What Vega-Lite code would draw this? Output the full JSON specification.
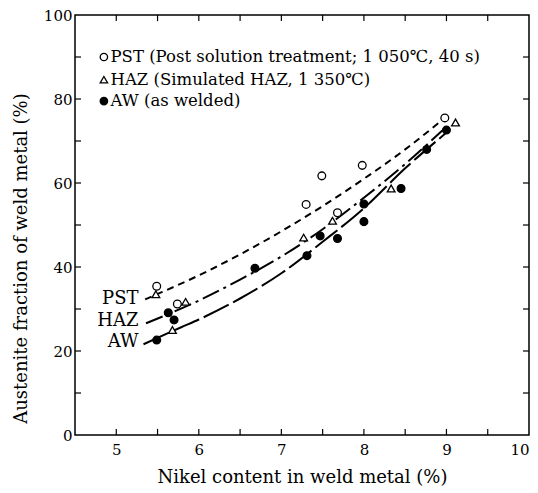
{
  "$schema": "https://vega.github.io/schema/vega-lite/v6.json",
  "width": 454,
  "height": 420,
  "autosize": "none",
  "padding": {"left": 75, "top": 15, "right": 9, "bottom": 58},
  "background": "white",
  "config": {
    "view": {"stroke": "black", "strokeWidth": 1.5},
    "font": "DejaVu Serif",
    "axis": {
      "grid": false,
      "domain": false,
      "ticks": false,
      "labelFont": "DejaVu Serif",
      "labelFontSize": 15,
      "labelColor": "black",
      "titleFont": "DejaVu Serif",
      "titleFontSize": 18,
      "titleFontWeight": "normal",
      "titleColor": "black"
    }
  },
  "datasets": {
    "pts": [
      {"series": "PST", "ni": 5.49, "aus": 35.4},
      {"series": "PST", "ni": 5.74, "aus": 31.2},
      {"series": "PST", "ni": 7.30, "aus": 54.9},
      {"series": "PST", "ni": 7.49, "aus": 61.7},
      {"series": "PST", "ni": 7.68, "aus": 52.9},
      {"series": "PST", "ni": 7.98, "aus": 64.2},
      {"series": "PST", "ni": 8.98, "aus": 75.5},
      {"series": "HAZ", "ni": 5.48, "aus": 33.5},
      {"series": "HAZ", "ni": 5.68, "aus": 25.0},
      {"series": "HAZ", "ni": 5.84, "aus": 31.7},
      {"series": "HAZ", "ni": 7.27, "aus": 47.0},
      {"series": "HAZ", "ni": 7.62, "aus": 51.0},
      {"series": "HAZ", "ni": 8.33, "aus": 58.7},
      {"series": "HAZ", "ni": 9.11, "aus": 74.4},
      {"series": "AW", "ni": 5.49, "aus": 22.6},
      {"series": "AW", "ni": 5.63, "aus": 29.1},
      {"series": "AW", "ni": 5.70, "aus": 27.4},
      {"series": "AW", "ni": 6.68, "aus": 39.7},
      {"series": "AW", "ni": 7.31, "aus": 42.7},
      {"series": "AW", "ni": 7.47, "aus": 47.4},
      {"series": "AW", "ni": 7.68, "aus": 46.8},
      {"series": "AW", "ni": 8.00, "aus": 55.0},
      {"series": "AW", "ni": 8.00, "aus": 50.8},
      {"series": "AW", "ni": 8.45, "aus": 58.7},
      {"series": "AW", "ni": 8.76, "aus": 68.0},
      {"series": "AW", "ni": 9.00, "aus": 72.6}
    ],
    "curves": [
      {"curve": "PST", "ni": 5.35, "aus": 32.3},
      {"curve": "PST", "ni": 5.55, "aus": 34.0},
      {"curve": "PST", "ni": 6.0, "aus": 38.0},
      {"curve": "PST", "ni": 6.5, "aus": 43.0},
      {"curve": "PST", "ni": 7.0, "aus": 48.5},
      {"curve": "PST", "ni": 7.5, "aus": 54.5},
      {"curve": "PST", "ni": 8.0, "aus": 61.0},
      {"curve": "PST", "ni": 8.5, "aus": 68.0},
      {"curve": "PST", "ni": 8.95, "aus": 75.0},
      {"curve": "HAZ", "ni": 5.36, "aus": 26.6},
      {"curve": "HAZ", "ni": 6.0, "aus": 32.0},
      {"curve": "HAZ", "ni": 6.5, "aus": 37.0},
      {"curve": "HAZ", "ni": 7.0, "aus": 42.5},
      {"curve": "HAZ", "ni": 7.5, "aus": 49.0},
      {"curve": "HAZ", "ni": 8.0, "aus": 56.5},
      {"curve": "HAZ", "ni": 8.5, "aus": 64.5},
      {"curve": "HAZ", "ni": 8.95, "aus": 72.5},
      {"curve": "AW", "ni": 5.33, "aus": 21.6},
      {"curve": "AW", "ni": 5.78, "aus": 25.6},
      {"curve": "AW", "ni": 6.0, "aus": 27.5},
      {"curve": "AW", "ni": 6.5, "aus": 32.5},
      {"curve": "AW", "ni": 7.0, "aus": 38.5},
      {"curve": "AW", "ni": 7.5, "aus": 46.0},
      {"curve": "AW", "ni": 8.0, "aus": 54.0},
      {"curve": "AW", "ni": 8.5, "aus": 63.5},
      {"curve": "AW", "ni": 9.0, "aus": 72.0}
    ],
    "labels": [
      {"label": "PST", "ni": 5.27, "aus": 32.4},
      {"label": "HAZ", "ni": 5.27, "aus": 27.1},
      {"label": "AW", "ni": 5.27, "aus": 22.1}
    ],
    "legend": [
      {"series": "PST", "desc": "PST (Post solution treatment; 1 050℃, 40 s)", "ni": 4.85, "tx": 4.93, "aus": 90.0},
      {"series": "HAZ", "desc": "HAZ (Simulated HAZ, 1 350℃)", "ni": 4.85, "tx": 4.93, "aus": 84.6},
      {"series": "AW", "desc": "AW (as welded)", "ni": 4.85, "tx": 4.93, "aus": 79.5}
    ],
    "xticks": [
      {"ni": 5}, {"ni": 5.5}, {"ni": 6}, {"ni": 6.5}, {"ni": 7}, {"ni": 7.5},
      {"ni": 8}, {"ni": 8.5}, {"ni": 9}, {"ni": 9.5}
    ],
    "yticks": [
      {"aus": 10}, {"aus": 20}, {"aus": 30}, {"aus": 40}, {"aus": 50},
      {"aus": 60}, {"aus": 70}, {"aus": 80}, {"aus": 90}
    ]
  },
  "layer": [
    {
      "data": {"name": "curves"},
      "mark": {"type": "line", "interpolate": "monotone", "color": "black", "strokeWidth": 2},
      "encoding": {
        "x": {"field": "ni", "type": "quantitative", "scale": {"domain": [4.5, 10]},
          "axis": {
            "values": [5, 6, 7, 8, 9, 10],
            "format": "d",
            "labelPadding": 7,
            "title": "Nikel content in weld metal (%)",
            "titlePadding": 11
          }},
        "y": {"field": "aus", "type": "quantitative", "scale": {"domain": [0, 100]},
          "axis": {
            "values": [0, 20, 40, 60, 80, 100],
            "labelPadding": 3,
            "title": "Austenite fraction of weld metal (%)",
            "titlePadding": 13,
            "titleY": 243
          }},
        "detail": {"field": "curve"},
        "strokeDash": {
          "field": "curve", "type": "nominal",
          "scale": {"domain": ["PST", "HAZ", "AW"], "range": [[7, 5], [18, 5, 3, 5], [28, 5]]},
          "legend": null
        }
      }
    },
    {
      "data": {"name": "xticks"},
      "mark": {"type": "rule", "color": "black", "strokeWidth": 1.2},
      "encoding": {
        "x": {"field": "ni", "type": "quantitative"},
        "y": {"datum": 0},
        "y2": {"datum": 1.45}
      }
    },
    {
      "data": {"name": "xticks"},
      "mark": {"type": "rule", "color": "black", "strokeWidth": 1.2},
      "encoding": {
        "x": {"field": "ni", "type": "quantitative"},
        "y": {"datum": 100},
        "y2": {"datum": 98.55}
      }
    },
    {
      "data": {"name": "yticks"},
      "mark": {"type": "rule", "color": "black", "strokeWidth": 1.2},
      "encoding": {
        "y": {"field": "aus", "type": "quantitative"},
        "x": {"datum": 4.5},
        "x2": {"datum": 4.573}
      }
    },
    {
      "data": {"name": "yticks"},
      "mark": {"type": "rule", "color": "black", "strokeWidth": 1.2},
      "encoding": {
        "y": {"field": "aus", "type": "quantitative"},
        "x": {"datum": 10},
        "x2": {"datum": 9.927}
      }
    },
    {
      "data": {"name": "pts"},
      "mark": {"type": "point", "filled": true, "stroke": "black", "strokeWidth": 1.3, "size": 60, "opacity": 1},
      "encoding": {
        "x": {"field": "ni", "type": "quantitative"},
        "y": {"field": "aus", "type": "quantitative"},
        "shape": {
          "field": "series", "type": "nominal",
          "scale": {"domain": ["PST", "HAZ", "AW"], "range": ["circle", "triangle-up", "circle"]},
          "legend": null
        },
        "fill": {
          "field": "series", "type": "nominal",
          "scale": {"domain": ["PST", "HAZ", "AW"], "range": ["white", "white", "black"]},
          "legend": null
        }
      }
    },
    {
      "data": {"name": "legend"},
      "mark": {"type": "point", "filled": true, "stroke": "black", "strokeWidth": 1.3, "size": 55, "opacity": 1},
      "encoding": {
        "x": {"field": "ni", "type": "quantitative"},
        "y": {"field": "aus", "type": "quantitative"},
        "shape": {"field": "series", "type": "nominal", "legend": null},
        "fill": {"field": "series", "type": "nominal", "legend": null}
      }
    },
    {
      "data": {"name": "legend"},
      "mark": {"type": "text", "align": "left", "baseline": "middle", "font": "DejaVu Serif", "fontSize": 16.5, "color": "black"},
      "encoding": {
        "x": {"field": "tx", "type": "quantitative"},
        "y": {"field": "aus", "type": "quantitative"},
        "text": {"field": "desc"}
      }
    },
    {
      "data": {"name": "labels"},
      "mark": {"type": "text", "align": "right", "baseline": "middle", "font": "DejaVu Serif", "fontSize": 18, "color": "black"},
      "encoding": {
        "x": {"field": "ni", "type": "quantitative"},
        "y": {"field": "aus", "type": "quantitative"},
        "text": {"field": "label"}
      }
    }
  ]
}
